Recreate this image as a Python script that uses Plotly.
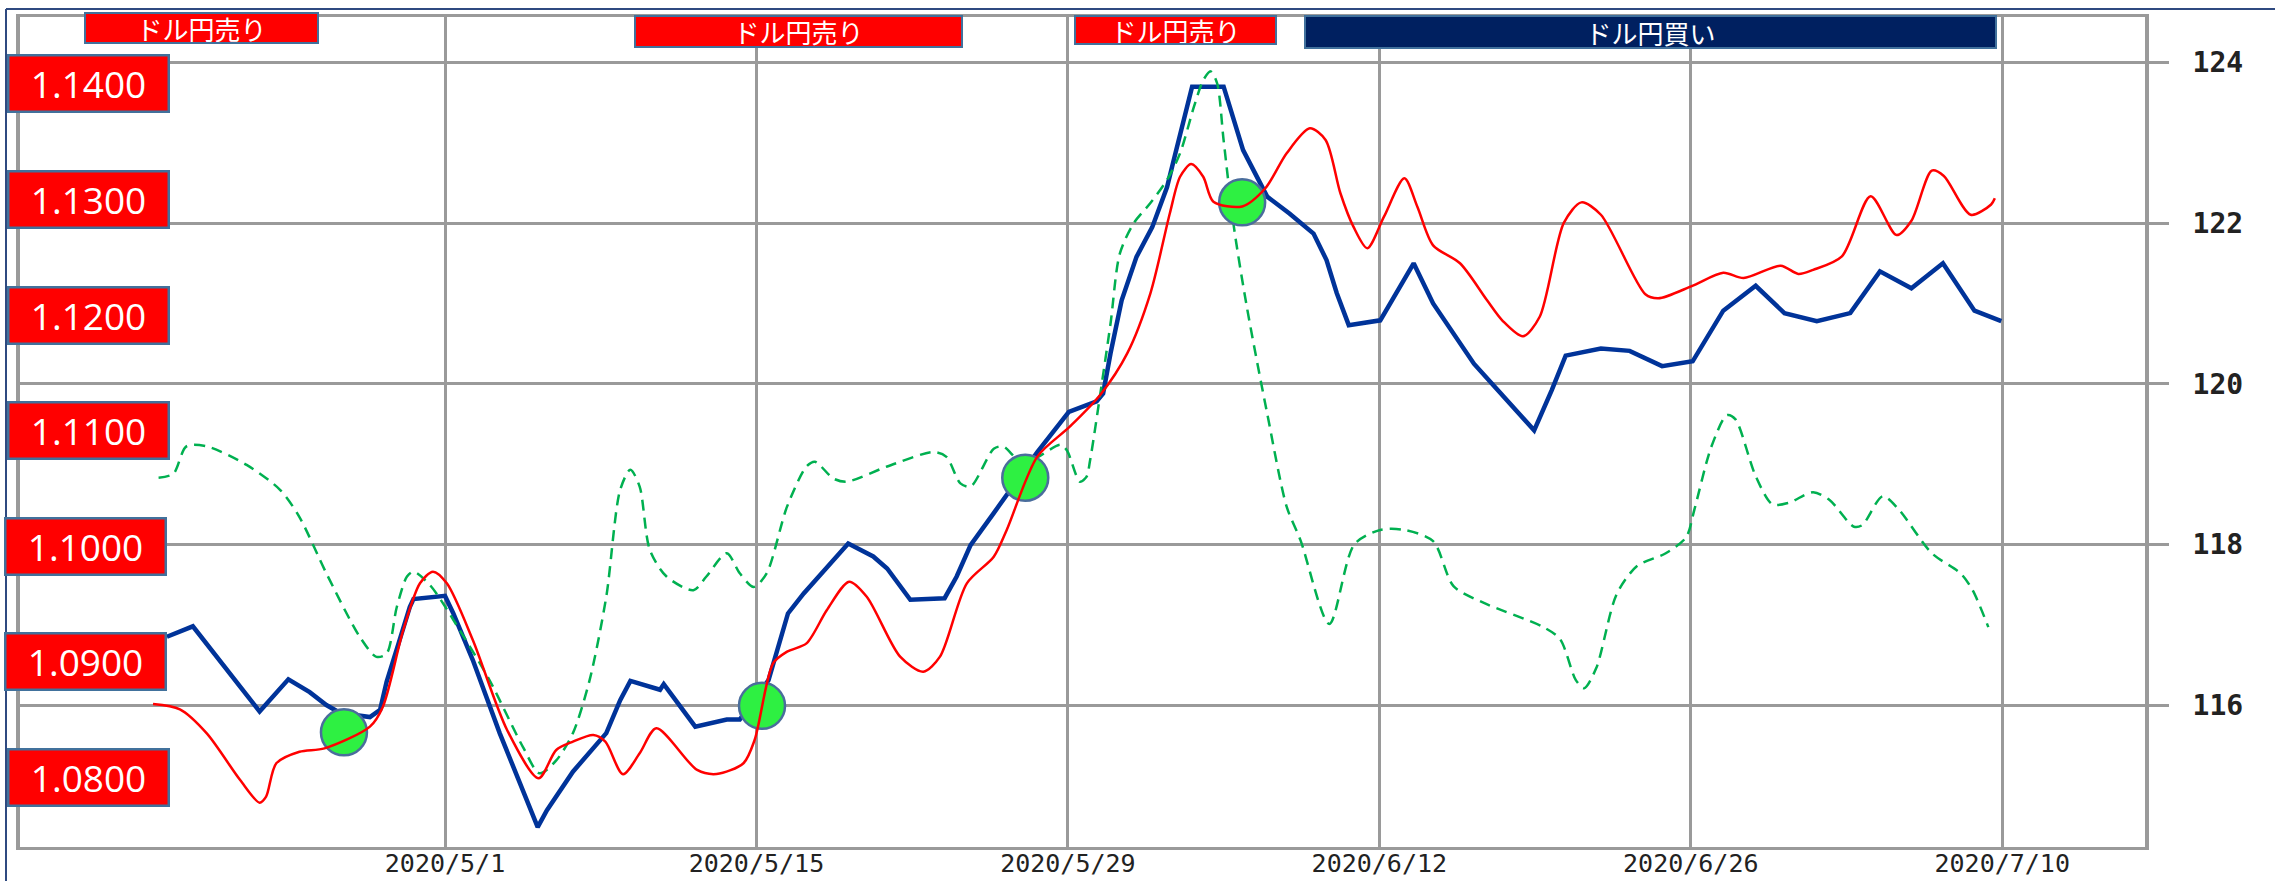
import plotly.graph_objects as go

def d(s):
    return "2020-" + s + ":00"

# ---- EUR/JPY (blue, right axis, yen) ----
blue_dates = ["04-18 12", "04-19 16", "04-22 16", "04-23 23", "04-24 22", "04-25 16", "04-26 07",
              "04-27 15", "04-28 02", "04-28 09", "04-28 22", "04-29 10", "04-29 14", "05-01 00",
              "05-01 09", "05-02 06", "05-03 11", "05-04 12", "05-05 04", "05-05 14", "05-06 18",
              "05-08 06", "05-08 21", "05-09 08", "05-10 16", "05-10 20", "05-12 06", "05-13 16",
              "05-14 06", "05-15 13", "05-16 01", "05-16 10", "05-17 03", "05-18 04", "05-19 03",
              "05-20 06", "05-20 21", "05-21 22", "05-23 11", "05-24 00", "05-24 15", "05-25 16",
              "05-27 15", "05-29 01", "05-30 07", "05-30 14", "05-30 22", "05-31 10", "06-01 02",
              "06-01 19", "06-02 11", "06-02 20", "06-03 08", "06-03 14", "06-05 00", "06-05 07",
              "06-05 21", "06-06 23", "06-07 23", "06-09 01", "06-09 15", "06-10 02", "06-10 15",
              "06-12 01", "06-12 22", "06-13 13", "06-14 10", "06-16 06", "06-17 04", "06-18 23",
              "06-19 18", "06-20 09", "06-21 23", "06-23 06", "06-24 17", "06-26 02", "06-27 11",
              "06-28 22", "06-30 05", "07-01 16", "07-03 04", "07-04 12", "07-05 22", "07-07 08",
              "07-08 18", "07-09 23"]
blue_vals = [116.85, 116.98, 115.92, 116.32, 116.16, 116.00, 115.90,
             115.85, 115.94, 116.29, 116.77, 117.22, 117.32, 117.36,
             117.14, 116.56, 115.65, 114.94, 114.48, 114.69, 115.17,
             115.65, 116.06, 116.30, 116.19, 116.26, 115.73, 115.82,
             115.82, 116.31, 116.77, 117.14, 117.39, 117.72, 118.01,
             117.85, 117.70, 117.31, 117.33, 117.60, 117.99, 118.39,
             119.15, 119.65, 119.78, 119.88, 120.38, 121.04, 121.58,
             121.95, 122.45, 122.87, 123.45, 123.70, 123.70, 123.45,
             122.91, 122.33, 122.12, 121.87, 121.54, 121.13, 120.73,
             120.79, 121.21, 121.50, 121.00, 120.25, 119.97, 119.42,
             119.92, 120.35, 120.44, 120.41, 120.22, 120.28, 120.91,
             121.22, 120.88, 120.78, 120.88, 121.40, 121.19, 121.50,
             120.91, 120.78]

# ---- EUR/USD (red, left labelled scale) ----
red_dates = ["04-17 21", "04-19 02", "04-20 07", "04-21 19", "04-22 16", "04-22 23", "04-23 10",
             "04-24 11", "04-25 14", "04-27 15", "04-28 05", "04-29 03", "04-29 21", "04-30 11",
             "05-01 02", "05-02 06", "05-03 19", "05-05 05", "05-06 00", "05-06 18", "05-07 16",
             "05-08 05", "05-09 00", "05-09 18", "05-10 12", "05-12 08", "05-13 05", "05-14 10",
             "05-14 22", "05-15 18", "05-16 09", "05-17 06", "05-18 04", "05-19 04", "05-19 23",
             "05-21 11", "05-22 12", "05-23 06", "05-24 11", "05-25 16", "05-26 06", "05-27 15",
             "05-29 02", "05-30 11", "05-31 16", "06-01 17", "06-02 14", "06-03 01", "06-03 13",
             "06-04 02", "06-04 13", "06-05 20", "06-06 21", "06-07 20", "06-08 21", "06-09 14",
             "06-10 06", "06-10 20", "06-11 11", "06-12 05", "06-13 03", "06-13 17", "06-14 10",
             "06-15 15", "06-16 20", "06-17 13", "06-18 11", "06-19 05", "06-20 07", "06-21 02",
             "06-21 23", "06-23 23", "06-24 13", "06-26 01", "06-27 11", "06-28 09", "06-30 01",
             "06-30 20", "07-01 12", "07-02 19", "07-04 02", "07-05 06", "07-05 22", "07-06 20",
             "07-07 09", "07-08 14", "07-09 12", "07-09 16"]
red_vals = [1.08632, 1.08586, 1.08378, 1.07974, 1.07778, 1.07830, 1.08119,
            1.08219, 1.08248, 1.08436, 1.08609, 1.09273, 1.09677, 1.09778,
            1.09677, 1.09186, 1.08407, 1.07989, 1.08234, 1.08306, 1.08364,
            1.08306, 1.08023, 1.08205, 1.08422, 1.08061, 1.08026, 1.08119,
            1.08320, 1.08985, 1.09085, 1.09157, 1.09446, 1.09691, 1.09561,
            1.09042, 1.08912, 1.09042, 1.09677, 1.09907, 1.10139, 1.10774,
            1.11033, 1.11310, 1.11668, 1.12188, 1.12881, 1.13197, 1.13307,
            1.13197, 1.12981, 1.12940, 1.13097, 1.13400, 1.13616, 1.13515,
            1.13054, 1.12765, 1.12578, 1.12851, 1.13184, 1.12938, 1.12603,
            1.12448, 1.12130, 1.11950, 1.11816, 1.11985, 1.12797, 1.12975,
            1.12868, 1.12179, 1.12144, 1.12250, 1.12366, 1.12320, 1.12427,
            1.12356, 1.12391, 1.12508, 1.13028, 1.12692, 1.12816, 1.13250,
            1.13204, 1.12868, 1.12957, 1.13010]

# ---- green dashed series (yen scale) ----
green_dates = ["04-18 03", "04-18 19", "04-19 09", "04-20 07", "04-22 02", "04-23 14", "04-24 11",
               "04-25 16", "04-27 04", "04-27 22", "04-28 09", "04-28 20", "04-29 07", "04-29 14",
               "04-30 08", "05-01 16", "05-03 00", "05-04 12", "05-05 06", "05-06 00", "05-06 18",
               "05-07 12", "05-08 06", "05-08 21", "05-09 08", "05-09 18", "05-10 05", "05-10 23",
               "05-12 04", "05-12 18", "05-13 16", "05-14 06", "05-14 21", "05-15 11", "05-16 09",
               "05-17 06", "05-17 15", "05-18 11", "05-19 01", "05-20 21", "05-22 23", "05-23 13",
               "05-24 04", "05-24 15", "05-25 16", "05-26 02", "05-27 00", "05-28 16", "05-28 23",
               "05-29 13", "05-29 20", "05-30 00", "05-30 11", "05-30 22", "05-31 08", "05-31 23",
               "06-01 17", "06-02 11", "06-03 01", "06-03 16", "06-04 02", "06-04 10", "06-04 17",
               "06-05 00", "06-05 11", "06-06 01", "06-06 23", "06-07 20", "06-08 11", "06-09 18",
               "06-10 21", "06-12 01", "06-13 03", "06-14 10", "06-15 08", "06-16 15", "06-19 09",
               "06-20 03", "06-20 20", "06-21 05", "06-21 18", "06-22 16", "06-23 14", "06-24 21",
               "06-25 19", "06-26 04", "06-26 22", "06-27 15", "06-28 00", "06-28 22", "06-29 16",
               "06-30 10", "07-01 12", "07-02 06", "07-03 08", "07-03 17", "07-04 15", "07-05 08",
               "07-06 20", "07-08 03", "07-08 16", "07-09 09"]
green_vals = [118.83, 118.88, 119.22, 119.22, 118.99, 118.68, 118.34,
              117.64, 116.85, 116.60, 116.64, 117.22, 117.60, 117.66,
              117.49, 116.93, 116.31, 115.48, 115.15, 115.31, 115.65,
              116.31, 117.35, 118.68, 118.93, 118.72, 117.93, 117.60,
              117.43, 117.60, 117.89, 117.64, 117.47, 117.64, 118.47,
              118.97, 119.03, 118.82, 118.78, 118.97, 119.15, 119.09,
              118.76, 118.72, 119.19, 119.22, 119.01, 119.24, 119.17,
              118.78, 118.84, 119.05, 119.88, 120.75, 121.62, 122.00,
              122.25, 122.54, 122.87, 123.45, 123.78, 123.89, 123.74,
              123.03, 121.96, 120.96, 119.63, 118.47, 118.05, 117.01,
              118.00, 118.18, 118.18, 118.04, 117.48, 117.28, 116.97,
              116.82, 116.31, 116.21, 116.46, 117.38, 117.73, 117.89,
              118.09, 118.44, 119.21, 119.61, 119.56, 118.85, 118.50,
              118.52, 118.65, 118.55, 118.22, 118.24, 118.60, 118.44,
              117.89, 117.64, 117.43, 116.97]

# ---- signal circles ----
signal_dates = ["04-26 11", "05-15 06", "05-27 02", "06-05 20"]
signal_vals = [115.66, 115.99, 118.83, 122.26]

# ---- labels ----
eurusd_labels = [1.14, 1.13, 1.12, 1.11, 1.10, 1.09, 1.08]
yen_ticks = [116, 118, 120, 122, 124]
x_ticks = ["2020-05-01", "2020-05-15", "2020-05-29", "2020-06-12", "2020-06-26", "2020-07-10"]
top_labels = ["ドル円売り", "ドル円売り", "ドル円売り", "ドル円買い"]
top_colors = ["#FF0000", "#FF0000", "#FF0000", "#002060"]

W, H = 2275, 881
L, R, T, B = 20, 2145, 17, 847
GRID = "#9A9A9A"

def px(x):
    return (x - L) / (R - L)

def py(y):
    return (B - y) / (B - T)

fig = go.Figure()
fig.add_trace(go.Scatter(x=[d(s) for s in blue_dates], y=blue_vals, mode="lines",
                         line=dict(color="#003399", width=4.5), yaxis="y", showlegend=False))
fig.add_trace(go.Scatter(x=[d(s) for s in red_dates], y=red_vals, mode="lines",
                         line=dict(color="#FF0000", width=2.5, shape="spline", smoothing=0.8),
                         yaxis="y2", showlegend=False))
fig.add_trace(go.Scatter(x=[d(s) for s in green_dates], y=green_vals, mode="lines",
                         line=dict(color="#00B050", width=2.5, dash="11px,7px", shape="spline", smoothing=0.8),
                         yaxis="y", showlegend=False))
fig.add_trace(go.Scatter(x=[d(s) for s in signal_dates], y=signal_vals, mode="markers",
                         marker=dict(size=46, color="#2EF042", line=dict(color="#4A6D9C", width=2.5)),
                         yaxis="y", showlegend=False))

annotations = []
# top signal boxes (pixel geometry)
top_geom = [(84, 319, 12, 44), (634, 963, 15, 48), (1074, 1277, 15, 45), (1304, 1997, 15, 49)]
for txt, col, (x0, x1, y0, y1) in zip(top_labels, top_colors, top_geom):
    annotations.append(dict(
        text=txt, xref="paper", yref="paper", x=px((x0 + x1) / 2), y=py((y0 + y1) / 2),
        xanchor="center", yanchor="middle", showarrow=False,
        width=x1 - x0 - 4, height=y1 - y0 - 4, bgcolor=col, bordercolor="#41719C",
        borderwidth=2, borderpad=0,
        font=dict(family="Noto Sans CJK JP", size=26, color="white")))
# left EUR/USD label boxes
label_x = [88.5, 88.5, 88.5, 88.5, 85, 85, 88.5]
for v, xc in zip(eurusd_labels, label_x):
    annotations.append(dict(
        text=f"{v:.4f}", xref="paper", yref="y2", x=px(xc), y=v,
        xanchor="center", yanchor="middle", showarrow=False,
        width=158, height=54, bgcolor="#FF0000", bordercolor="#41719C",
        borderwidth=2.5, borderpad=0,
        font=dict(family="Open Sans", size=37, color="white")))

shapes = [
    dict(type="line", xref="paper", yref="paper", x0=px(6), x1=px(6), y0=py(881), y1=py(9),
         line=dict(color="#2F4A80", width=2)),
    dict(type="line", xref="paper", yref="paper", x0=px(6), x1=px(2275), y0=py(9), y1=py(9),
         line=dict(color="#2F4A80", width=2)),
]

fig.update_layout(
    template="none",
    width=W, height=H, autosize=False,
    margin=dict(l=L, r=W - R, t=T, b=H - B, pad=0, autoexpand=False),
    paper_bgcolor="white", plot_bgcolor="white",
    xaxis=dict(type="date", range=["2020-04-11 21:30", "2020-07-16 10:00"],
               tickvals=x_ticks, tickformat="%Y/%-m/%-d", automargin=False,
               showgrid=True, gridcolor=GRID, gridwidth=3,
               showline=True, linecolor=GRID, linewidth=3, mirror=True,
               ticks="", zeroline=False, ticklabelstandoff=-8,
               tickfont=dict(family="DejaVu Sans Mono", size=25, color="#222222")),
    yaxis=dict(side="right", range=[114.232, 124.567], tickvals=yen_ticks, automargin=False,
               showgrid=True, gridcolor=GRID, gridwidth=3,
               showline=True, linecolor=GRID, linewidth=4, mirror=True,
               ticks="outside", ticklen=20, tickwidth=3, tickcolor=GRID,
               ticklabelstandoff=18, zeroline=False,
               tickfont=dict(family="DejaVu Sans Mono", size=28, color="#222222", weight="bold")),
    yaxis2=dict(overlaying="y", side="left", range=[1.07394, 1.14580], automargin=False,
                showgrid=False, showticklabels=False, showline=False, zeroline=False, ticks=""),
    annotations=annotations, shapes=shapes, showlegend=False,
)

fig.write_html("out.html", config={"displayModeBar": False},
               post_script="document.body.style.margin='0';document.body.style.overflow='hidden';")
